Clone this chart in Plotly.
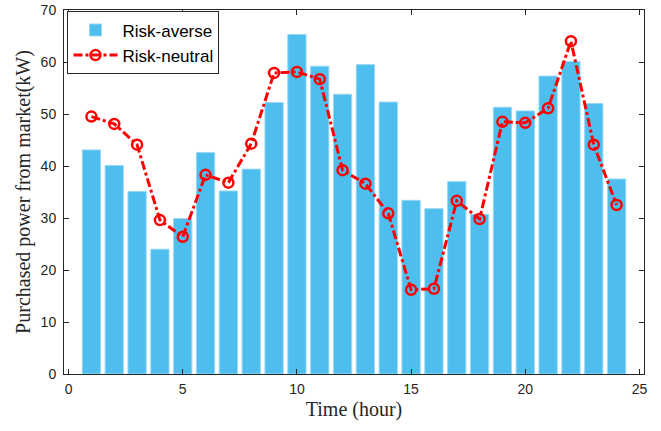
import plotly.graph_objects as go

hours = list(range(1, 25))
risk_averse = [43.1, 40.1, 35.1, 24.0, 29.9, 42.6, 35.2, 39.4, 52.2, 65.3, 59.2, 53.8,
               59.5, 52.3, 33.4, 31.8, 37.0, 30.7, 51.3, 50.6, 57.3, 60.1, 52.0, 37.5]
risk_neutral = [49.5, 48.1, 44.1, 29.6, 26.4, 38.3, 36.8, 44.3, 57.9, 58.1, 56.7, 39.2,
                36.6, 30.9, 16.2, 16.4, 33.3, 29.8, 48.5, 48.3, 51.1, 64.0, 44.1, 32.5]
x_ticks = [0, 5, 10, 15, 20, 25]
y_ticks = [0, 10, 20, 30, 40, 50, 60, 70]

fig = go.Figure()
fig.add_trace(go.Bar(
    x=hours, y=risk_averse, name="Risk-averse", width=0.8,
    marker=dict(color="#4DBEEE", line=dict(color="#9ad8f3", width=1)),
))
fig.add_trace(go.Scatter(
    x=hours, y=risk_neutral, name="Risk-neutral", mode="lines+markers",
    line=dict(color="#FF0000", width=3, dash="dashdot"),
    marker=dict(symbol="circle-open", size=10, color="#FF0000", line=dict(width=2.5, color="#FF0000")),
))

axis_common = dict(
    showline=True, linecolor="#262626", linewidth=1, mirror="ticks",
    ticks="inside", ticklen=5, tickcolor="#262626", showgrid=False, zeroline=False,
    automargin=False,
    tickfont=dict(family="Arial, Liberation Sans, sans-serif", size=14, color="#262626"),
)
title_font = dict(family="Times New Roman, Liberation Serif, serif", size=20, color="#262626")
fig.update_xaxes(range=[-0.2, 25.2], tickvals=x_ticks, ticklabelstandoff=2, **axis_common,
                 title=dict(text="Time (hour)", font=title_font, standoff=6))
fig.update_yaxes(range=[0, 70], tickvals=y_ticks, ticklabelstandoff=4, **axis_common,
                 title=dict(text="Purchased power from market(kW)", font=title_font, standoff=4))

fig.update_layout(
    width=661, height=431,
    margin=dict(l=64, r=17, t=10, b=57),
    plot_bgcolor="white", paper_bgcolor="white",
    bargap=0.2,
    legend=dict(x=0.006, y=0.996, xanchor="left", yanchor="top",
                bgcolor="white", bordercolor="#262626", borderwidth=1,
                font=dict(family="Arial, Liberation Sans, sans-serif", size=17, color="#000000"),
                itemwidth=44, tracegroupgap=0),
    showlegend=True,
)
fig.write_html("out.html")
